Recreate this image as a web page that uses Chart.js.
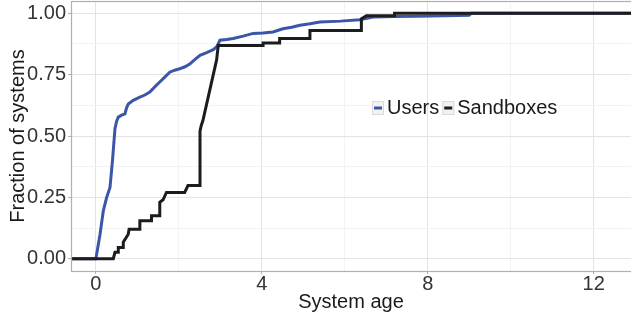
<!DOCTYPE html>
<html>
<head>
<meta charset="utf-8">
<script src="https://cdn.jsdelivr.net/npm/chart.js@4.4.0/dist/chart.umd.min.js"></script>
<style>
  html, body { margin: 0; padding: 0; background: #fff; }
  #wrap { width: 631px; height: 317px; }
</style>
</head>
<body>
<div id="wrap"><canvas id="ecdf"></canvas></div>
<script>
const seriesNames = ['Users', 'Sandboxes'];
const seriesColors = ['#3b55a8', '#1c1c1c'];

// Users (blue) ECDF
const usersAge = [-0.6, 0, 0.05, 0.1, 0.18, 0.26, 0.34, 0.40, 0.46, 0.50, 0.54, 0.62, 0.70, 0.74, 0.78, 0.9, 1.06, 1.18, 1.30, 1.42, 1.54, 1.66, 1.78, 1.90, 2.02, 2.15, 2.27, 2.39, 2.51, 2.67, 2.83, 2.92, 2.99, 3.15, 3.31, 3.55, 3.79, 4.03, 4.27, 4.51, 4.72, 4.92, 5.16, 5.4, 5.9, 6.36, 6.68, 7.2, 7.72, 8.4, 9.0, 9.05, 12.9];
const usersFrac = [0, 0, 0.05, 0.1, 0.196, 0.25, 0.29, 0.40, 0.53, 0.56, 0.577, 0.585, 0.59, 0.615, 0.63, 0.645, 0.658, 0.667, 0.679, 0.70, 0.72, 0.74, 0.76, 0.768, 0.774, 0.782, 0.794, 0.812, 0.829, 0.84, 0.852, 0.865, 0.89, 0.893, 0.897, 0.907, 0.918, 0.92, 0.924, 0.937, 0.943, 0.951, 0.957, 0.964, 0.968, 0.974, 0.985, 0.987, 0.988, 0.99, 0.992, 1.0, 1.0];

// Sandboxes (black) ECDF
const sandAge = [-0.6, 0.42, 0.46, 0.54, 0.54, 0.66, 0.66, 0.78, 0.80, 1.06, 1.06, 1.34, 1.34, 1.54, 1.54, 1.62, 1.70, 2.14, 2.22, 2.51, 2.51, 2.54, 2.58, 2.91, 2.95, 4.03, 4.03, 4.43, 4.43, 5.16, 5.16, 6.40, 6.40, 6.52, 7.20, 7.20, 12.9];
const sandFrac = [0, 0, 0.026, 0.026, 0.046, 0.046, 0.067, 0.1, 0.12, 0.12, 0.155, 0.155, 0.175, 0.175, 0.23, 0.24, 0.27, 0.27, 0.298, 0.298, 0.52, 0.543, 0.563, 0.81, 0.869, 0.869, 0.879, 0.879, 0.897, 0.897, 0.93, 0.93, 0.977, 0.99, 0.99, 1.0, 1.0];

const xTicks = [0, 2, 4, 6, 8, 10, 12];
const xLabels = [0, 4, 8, 12];
const yTicks = [0, 0.125, 0.25, 0.375, 0.5, 0.625, 0.75, 0.875, 1];
const yLabels = ['0.00', '0.25', '0.50', '0.75', '1.00'];

const FONT = '"Liberation Sans", Arial, Helvetica, sans-serif';
const MAJOR = '#e3e3e3';
const MINOR = '#f3f3f3';

function pts(xs, ys) {
    return xs.map((x, i) => ({ x: x, y: ys[i] }));
}

function noPad(s) {
    s.paddingTop = 0;
    s.paddingBottom = 0;
    s.paddingLeft = 0;
    s.paddingRight = 0;
}

// panel border + legend inside the panel
const panelPlugin = {
    id: 'panel',
    afterDatasetsDraw(c) {
        const a = c.chartArea;
        const ctx = c.ctx;
        ctx.save();
        ctx.strokeStyle = '#b0b0b0';
        ctx.lineWidth = 1.2;
        ctx.strokeRect(a.left + 0.5, a.top + 0.5, a.right - a.left + 2, a.bottom - a.top);

        // legend
        ctx.font = '20px ' + FONT;
        ctx.textBaseline = 'middle';
        let x = 372;
        const y = 108;
        seriesNames.forEach((name, i) => {
            ctx.fillStyle = '#f2f2f2';
            ctx.fillRect(x, y - 7, 12, 14);
            ctx.strokeStyle = '#d8d8d8';
            ctx.lineWidth = 1;
            ctx.strokeRect(x + 0.5, y - 6.5, 11, 13);
            ctx.strokeStyle = seriesColors[i];
            ctx.lineWidth = 3;
            ctx.beginPath();
            ctx.moveTo(x + 2, y);
            ctx.lineTo(x + 10, y);
            ctx.stroke();
            ctx.fillStyle = '#1a1a1a';
            ctx.fillText(name, x + 15, y);
            x += 15 + ctx.measureText(name).width + 3;
        });
        ctx.restore();
    }
};

const ctx = document.getElementById('ecdf').getContext('2d');
const chart = new Chart(ctx, {
    type: 'scatter',
    data: {
        datasets: [
            {
                label: seriesNames[1],
                data: pts(sandAge, sandFrac),
                showLine: true,
                borderColor: seriesColors[1],
                borderWidth: 3,
                pointRadius: 0,
                order: 0
            },
            {
                label: seriesNames[0],
                data: pts(usersAge, usersFrac),
                showLine: true,
                borderColor: seriesColors[0],
                borderWidth: 3,
                pointRadius: 0,
                order: 1
            }
        ]
    },
    options: {
        animation: false,
        responsive: true,
        maintainAspectRatio: false,
        layout: { padding: { top: 1, left: 0, right: 0, bottom: 0 } },
        plugins: {
            legend: { display: false },
            tooltip: { enabled: false }
        },
        scales: {
            x: {
                type: 'linear',
                min: -0.6,
                max: 12.9,
                afterBuildTicks: s => { s.ticks = xTicks.map(v => ({ value: v })); },
                afterFit: s => { s.height = 46; noPad(s); },
                border: { display: false },
                grid: {
                    color: c => (xLabels.includes(c.tick.value) ? MAJOR : MINOR),
                    tickColor: c => (xLabels.includes(c.tick.value) ? '#b0b0b0' : 'rgba(0,0,0,0)'),
                    tickLength: 3,
                    lineWidth: 1
                },
                ticks: {
                    color: '#333',
                    font: { family: FONT, size: 20 },
                    padding: -2,
                    maxRotation: 0,
                    autoSkip: false,
                    callback: v => (xLabels.includes(v) ? String(v) : '')
                },
                title: {
                    display: true,
                    text: 'System age',
                    color: '#1a1a1a',
                    font: { family: FONT, size: 20 },
                    padding: { top: 0, bottom: 3 }
                }
            },
            y: {
                type: 'linear',
                min: -0.05,
                max: 1.05,
                afterBuildTicks: s => { s.ticks = yTicks.map(v => ({ value: v })); },
                afterFit: s => { s.width = 71; noPad(s); },
                border: { display: false },
                grid: {
                    color: c => (c.tick.value * 4 % 1 === 0 ? MAJOR : MINOR),
                    tickColor: c => (c.tick.value * 4 % 1 === 0 ? '#b0b0b0' : 'rgba(0,0,0,0)'),
                    tickLength: 3,
                    lineWidth: 1
                },
                ticks: {
                    color: '#333',
                    font: { family: FONT, size: 20 },
                    padding: 2,
                    autoSkip: false,
                    callback: v => (v * 4 % 1 === 0 ? yLabels[v * 4] : '')
                },
                title: {
                    display: true,
                    text: 'Fraction of systems',
                    color: '#1a1a1a',
                    font: { family: FONT, size: 20 },
                    padding: { top: 6, bottom: 0 }
                }
            }
        }
    },
    plugins: [panelPlugin]
});
</script>
</body>
</html>
